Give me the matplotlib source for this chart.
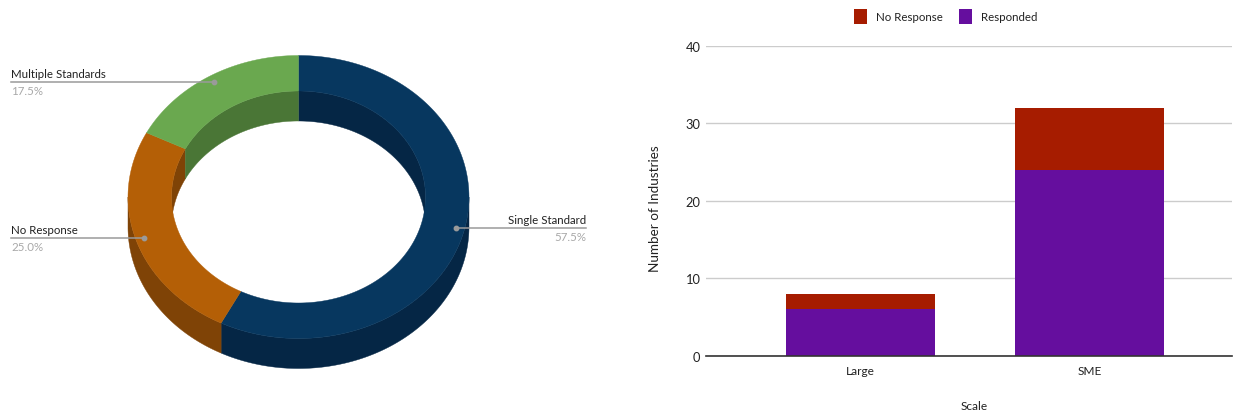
import numpy as np
import matplotlib
matplotlib.use("Agg")
import matplotlib.pyplot as plt
from matplotlib.patches import Polygon

plt.rcParams['font.family'] = ['Lato', 'DejaVu Sans']

# donut data
donut_labels = ["Single Standard", "No Response", "Multiple Standards"]
donut_values = [57.5, 25.0, 17.5]
donut_pct = ["57.5%", "25.0%", "17.5%"]
donut_top = ["#07375f", "#b45f06", "#6aa84f"]
donut_dark = ["#052645", "#7f4306", "#4a7636"]

# bar data
scales = ["Large", "SME"]
responded = [6, 24]
no_response = [2, 8]

W, H = 1242, 414
CX, CY = 298.5, 198
RX, RY = 170.5, 141.5
IX, IY = 127, 106
DEPTH = 30

fig = plt.figure(figsize=(W / 100, H / 100), dpi=100)

# left side is drawn on a pixel sized axes
ax = fig.add_axes([0, 0, 640 / W, 1])
ax.set_xlim(0, 640)
ax.set_ylim(H, 0)
ax.axis("off")


def arc(rx, ry, a0, a1, dy=0):
    # angles in degrees, clockwise from the top
    t = np.radians(np.linspace(a0, a1, 200))
    return np.column_stack((CX + rx * np.sin(t), CY + dy - ry * np.cos(t)))


def clip_range(a0, a1, lo, hi):
    return max(a0, lo), min(a1, hi)


edges = np.concatenate(([0], np.cumsum(donut_values))) * 3.6

# outer wall, only the front half shows
for i in range(3):
    a0, a1 = clip_range(edges[i], edges[i + 1], 90, 270)
    if a1 > a0:
        ax.add_patch(Polygon(np.vstack((arc(RX, RY, a0, a1), arc(RX, RY, a1, a0, DEPTH))),
                             fc=donut_dark[i], ec=donut_dark[i], lw=0.3, zorder=1))

# hole is cut by the lower half of the inner ellipse
hole_low = arc(IX, IY, 90, 270)
ax.add_patch(Polygon(np.vstack((hole_low, arc(IX, IY, 270, 90, DEPTH))),
                     fc="white", ec="none", zorder=2))

# inner wall, only the back half shows
for i in range(3):
    for lo, hi in [(0, 90), (270, 360)]:
        a0, a1 = clip_range(edges[i], edges[i + 1], lo, hi)
        if a1 > a0:
            ax.add_patch(Polygon(np.vstack((arc(IX, IY, a0, a1), arc(IX, IY, a1, a0, DEPTH))),
                                 fc=donut_dark[i], ec=donut_dark[i], lw=0.3, zorder=3))

# top face
for i in range(3):
    ax.add_patch(Polygon(np.vstack((arc(RX, RY, edges[i], edges[i + 1]),
                                    arc(IX, IY, edges[i + 1], edges[i]))),
                         fc=donut_top[i], ec=donut_top[i], lw=0.3, zorder=4))

# leader lines and labels
GRAY = "#9a9a9a"
leaders = [((456, 228.7), (586, 228.7), "right"),
           ((144, 238.7), (11, 238.7), "left"),
           ((214, 82.7), (11, 82.7), "left")]
for i, (p0, p1, ha) in enumerate(leaders):
    ax.plot([p0[0], p1[0]], [p0[1], p1[1]], color=GRAY, lw=1.1, zorder=5)
    ax.plot(*p0, "o", color=GRAY, ms=3.2, zorder=6)
    ax.text(p1[0], p1[1] - 2.5, donut_labels[i], ha=ha, va="bottom", fontsize=8.3, color="#222222")
    ax.text(p1[0], p1[1] + 3, donut_pct[i], ha=ha, va="top", fontsize=8.3, color="#a8a8a8")

# right side, stacked bars
L, R, T, B = 706, 1232, 46.7, 356.7
bx = fig.add_axes([L / W, 1 - B / H, (R - L) / W, (B - T) / H])
x = np.arange(len(scales))
bx.bar(x, responded, width=0.65, color="#650e9e", label="Responded", zorder=3)
bx.bar(x, no_response, width=0.65, bottom=responded, color="#a61c00", label="No Response", zorder=3)
bx.set_xlim(-0.675, 1.622)
bx.set_ylim(0, 40)
bx.set_yticks([0, 10, 20, 30, 40])
bx.set_xticks(x)
bx.set_xticklabels(scales)
bx.grid(axis="y", color="#cccccc", lw=1, zorder=0)
bx.tick_params(axis="both", length=0, labelsize=8.6, labelcolor="#222222")
bx.tick_params(axis="x", pad=7)
bx.tick_params(axis="y", pad=4, labelsize=9.3)
for s in ["top", "right", "left"]:
    bx.spines[s].set_visible(False)
bx.spines["bottom"].set_color("#333333")
bx.spines["bottom"].set_linewidth(1.2)
bx.spines["bottom"].set_zorder(5)
fig.text(655 / W, 1 - 209 / H, "Number of Industries", rotation=90, ha="center", va="center",
         fontsize=9.7, color="#222222")
fig.text(974.5 / W, 1 - 407 / H, "Scale", ha="center", va="center", fontsize=8.6, color="#222222")

handles, labels = bx.get_legend_handles_labels()
leg = fig.legend(handles[::-1], labels[::-1], ncols=2, loc="center", bbox_to_anchor=(946 / W, 1 - 17.5 / H),
                 frameon=False, fontsize=8.3, handlelength=1.1, handleheight=1.5, handletextpad=0.8,
                 columnspacing=1.4, labelcolor="#222222")

fig.savefig("out.png", dpi=100)
